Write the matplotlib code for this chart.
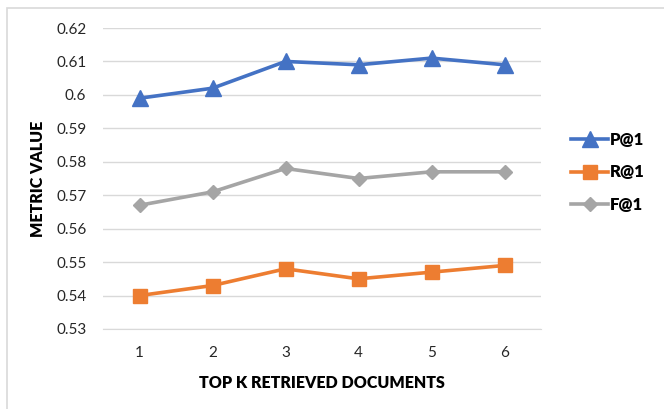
import matplotlib.pyplot as plt
from matplotlib.patches import Rectangle

k_values = [1, 2, 3, 4, 5, 6]
p_at_1 = [0.599, 0.602, 0.610, 0.609, 0.611, 0.609]
r_at_1 = [0.540, 0.543, 0.548, 0.545, 0.547, 0.549]
f_at_1 = [0.567, 0.571, 0.578, 0.575, 0.577, 0.577]
y_ticks = [0.53, 0.54, 0.55, 0.56, 0.57, 0.58, 0.59, 0.6, 0.61, 0.62]
y_labels = ['0.53', '0.54', '0.55', '0.56', '0.57', '0.58', '0.59', '0.6', '0.61', '0.62']

plt.rcParams['font.family'] = ['Lato', 'DejaVu Sans']

fig = plt.figure(figsize=(6.64, 4.09), dpi=100)
fig.patches.append(Rectangle((7 / 664, -0.1), 1.2, 1 - 8 / 409 + 0.1,
                             transform=fig.transFigure, fill=False,
                             edgecolor='#d9d9d9', linewidth=1.2))

ax = fig.add_axes([103 / 664, 1 - 329 / 409, 438 / 664, 301 / 409])
x = range(len(k_values))
ax.plot(x, p_at_1, color='#4472c4', lw=2.6, marker='^', ms=11, label='P@1')
ax.plot(x, r_at_1, color='#ed7d31', lw=2.6, marker='s', ms=9.5, label='R@1')
ax.plot(x, f_at_1, color='#a5a5a5', lw=2.6, marker='D', ms=7.5, label='F@1')

ax.set_xlim(-0.5, len(k_values) - 0.5)
ax.set_ylim(0.53, 0.62)
ax.set_yticks(y_ticks)
ax.set_yticklabels(y_labels)
ax.set_xticks(list(x))
ax.set_xticklabels([str(k) for k in k_values])
ax.grid(axis='y', color='#d9d9d9', lw=1)
ax.set_axisbelow(True)
for s in ['top', 'right', 'left']:
    ax.spines[s].set_visible(False)
ax.spines['bottom'].set_color('#d9d9d9')
ax.tick_params(length=0, labelsize=11, colors='#262626')
ax.tick_params(axis='y', pad=12)
ax.tick_params(axis='x', pad=12)

ax.set_ylabel('METRIC VALUE', fontsize=11.5, fontweight='heavy', labelpad=7)
ax.set_xlabel('TOP K RETRIEVED DOCUMENTS', fontsize=11.5, fontweight='heavy', labelpad=11)

leg = ax.legend(loc='center left', bbox_to_anchor=(1.035, 0.52), frameon=False,
                handlelength=2.2, labelspacing=1.0, handletextpad=0.1,
                prop={'weight': 'heavy', 'size': 12})

fig.savefig('out.png', dpi=100)
